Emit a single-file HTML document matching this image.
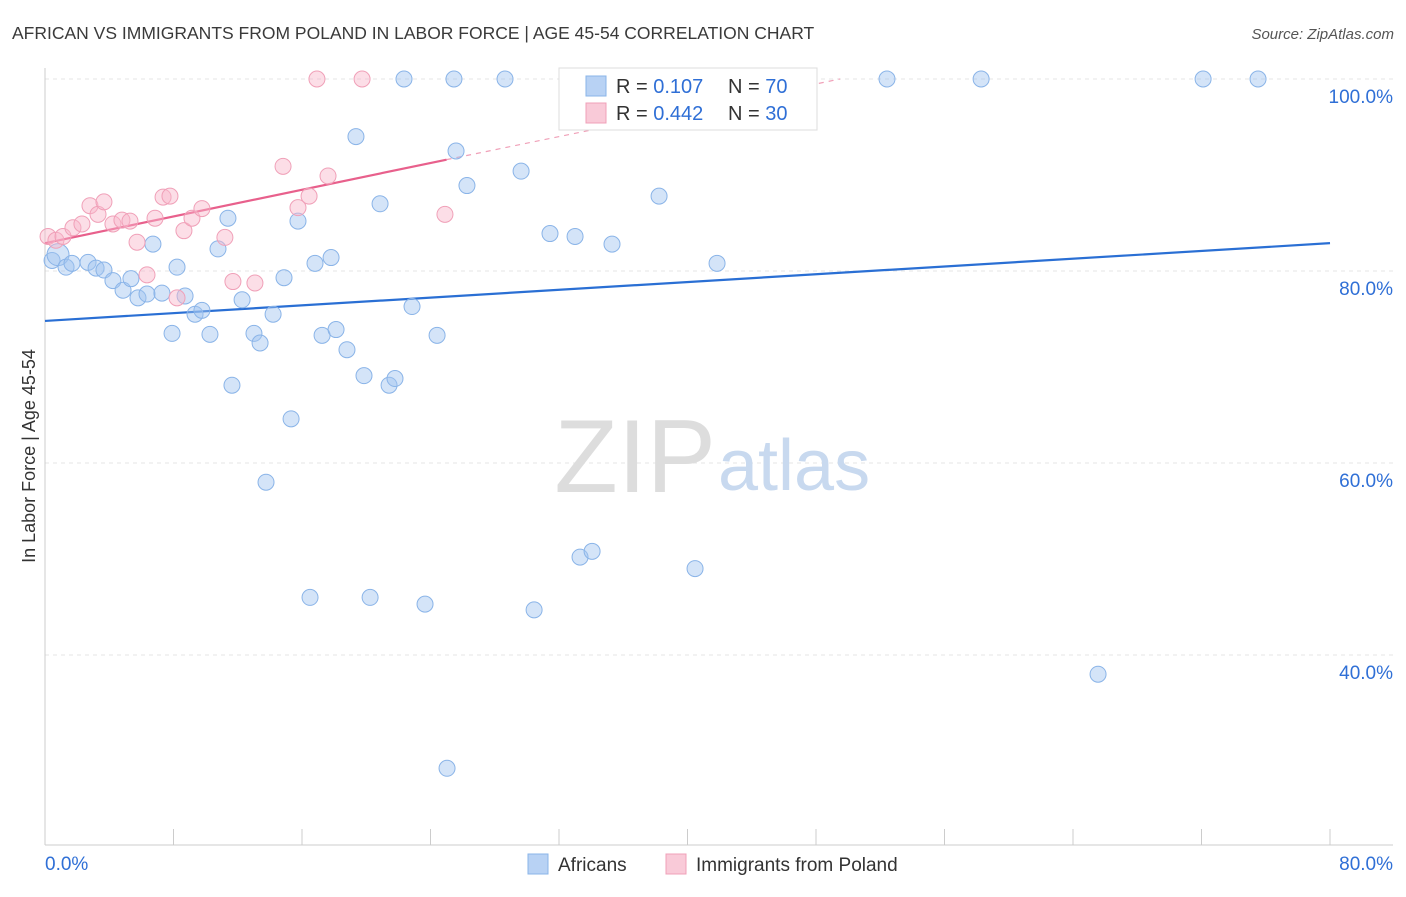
<!DOCTYPE html>
<html><head><meta charset="utf-8"><style>
body{margin:0;background:#fff;font-family:"Liberation Sans",sans-serif;}
svg text{font-family:"Liberation Sans",sans-serif;}
</style></head><body>
<svg id="chart" width="1406" height="892" viewBox="0 0 1406 892">
<text x="12" y="39" font-size="17.5" fill="#3a3a3a">AFRICAN VS IMMIGRANTS FROM POLAND IN LABOR FORCE | AGE 45-54 CORRELATION CHART</text>
<text x="1394" y="39" font-size="15" fill="#555" font-style="italic" text-anchor="end">Source: ZipAtlas.com</text>
<text x="35" y="456" font-size="18" fill="#333" text-anchor="middle" transform="rotate(-90 35 456)">In Labor Force | Age 45-54</text>
<g id="grid"></g>
<g id="axes"></g>
<text x="716" y="492" font-size="104" fill="#ddd" text-anchor="end" font-family="Liberation Serif">ZIP</text>
<text x="718" y="490" font-size="72" fill="#c8d9ef">atlas</text>
<g id="trends"></g>
<g id="points"></g>
<g>
<rect x="559" y="68" width="258" height="62" fill="#fff" stroke="#ddd"/>
<rect x="586" y="76" width="20" height="20" fill="#b8d2f4" stroke="#8ab4e8"/>
<text x="616" y="93" font-size="20" fill="#333">R = <tspan fill="#2f6fd6"> 0.107</tspan><tspan x="728">N = </tspan><tspan fill="#2f6fd6">70</tspan></text>
<rect x="586" y="103" width="20" height="20" fill="#f9cad8" stroke="#f0a0b8"/>
<text x="616" y="120" font-size="20" fill="#333">R = <tspan fill="#2f6fd6">0.442</tspan><tspan x="728">N = </tspan><tspan fill="#2f6fd6">30</tspan></text>
</g>
<g>
<rect x="528" y="854" width="20" height="20" fill="#b8d2f4" stroke="#8ab4e8"/>
<text x="558" y="871" font-size="19" fill="#333">Africans</text>
<rect x="666" y="854" width="20" height="20" fill="#f9cad8" stroke="#f0a0b8"/>
<text x="696" y="871" font-size="19" fill="#333">Immigrants from Poland</text>
</g>
</svg>
<script>
const yTicks=[40,60,80,100];
const xTickLabels=["0.0%","80.0%"];
const africansX=[0.44,0.81,1.31,1.68,2.68,3.18,3.67,4.23,4.86,5.35,5.79,6.35,6.72,7.28,7.91,8.22,8.72,9.34,9.77,10.27,10.77,11.39,11.64,12.27,13.01,13.39,13.76,14.2,14.88,15.32,15.75,16.5,16.81,17.25,17.81,18.12,18.8,19.36,19.86,20.24,20.86,21.42,21.79,22.35,22.85,23.66,24.41,25.03,25.46,25.59,26.27,28.64,29.64,30.45,31.44,33.0,33.31,34.06,34.8,35.3,38.23,40.47,41.84,43.33,52.42,58.28,65.56,72.1,75.52];
const africansY=[81.1,81.7,80.4,80.8,80.9,80.3,80.1,79.0,78.0,79.2,77.2,77.6,82.8,77.7,73.5,80.4,77.4,75.5,75.9,73.4,82.3,85.5,68.1,77.0,73.5,72.5,58.0,75.5,79.3,64.6,85.2,46.0,80.8,73.3,81.4,73.9,71.8,94.0,69.1,46.0,87.0,68.1,68.8,100,76.3,45.3,73.3,28.2,100,92.5,88.9,100,90.4,44.7,83.9,83.6,50.2,50.8,100,82.8,87.8,49.0,80.8,100,100,100,38.0,100,100];
const polandX=[0.19,0.68,1.12,1.74,2.3,2.8,3.3,3.67,4.23,4.79,5.29,5.73,6.35,6.85,7.35,7.78,8.22,8.65,9.15,9.77,11.2,11.7,13.07,14.82,15.75,16.44,17.62,16.93,19.74,24.9];
const polandY=[83.6,83.2,83.6,84.5,84.9,86.8,85.9,87.2,84.9,85.3,85.2,83.0,79.6,85.5,87.7,87.8,77.2,84.2,85.5,86.5,83.5,78.9,78.75,90.9,86.6,87.8,89.9,100,100,85.9];
const africansTrend=[0,74.8,80,82.9];
const polandTrend=[0,82.9,25,91.6,49.5,100];
const NS="http://www.w3.org/2000/svg";
const X=v=>45+v*1285/80, Y=v=>79+(100-v)*9.6;
function mk(tag,attrs,parent){const e=document.createElementNS(NS,tag);for(const k in attrs)e.setAttribute(k,attrs[k]);parent.appendChild(e);return e;}
const grid=document.getElementById('grid'),axes=document.getElementById('axes');
yTicks.forEach(t=>{
 const l=mk('line',{x1:45,x2:1393,y1:Y(t),y2:Y(t),stroke:'#e4e4e4','stroke-dasharray':'4 4'},grid);
 
 
 const tx=mk('text',{x:1393,y:Y(t)+24,'font-size':19,fill:'#2f6fd6','text-anchor':'end'},axes);
 tx.textContent=t.toFixed(1)+'%';
 
 
});
mk('line',{x1:45,x2:45,y1:68,y2:845,stroke:'#ccc'},axes);
mk('line',{x1:45,x2:1393,y1:845,y2:845,stroke:'#ccc'},axes);
for(let i=0;i<=10;i++){mk('line',{x1:X(i*8),x2:X(i*8),y1:829,y2:845,stroke:'#ccc'},axes);}
const xl0=mk('text',{x:45,y:870,'font-size':19,fill:'#2f6fd6'},axes);xl0.textContent=xTickLabels[0];


const xl1=mk('text',{x:1393,y:870,'font-size':19,fill:'#2f6fd6','text-anchor':'end'},axes);xl1.textContent=xTickLabels[1];


const tr=document.getElementById('trends');
const bt=mk('line',{x1:X(africansTrend[0]),y1:Y(africansTrend[1]),x2:X(africansTrend[2]),y2:Y(africansTrend[3]),stroke:'#2a6fd4','stroke-width':2.2},tr);


const pt=mk('line',{x1:X(polandTrend[0]),y1:Y(polandTrend[1]),x2:X(polandTrend[2]),y2:Y(polandTrend[3]),stroke:'#e8608c','stroke-width':2.2},tr);


const pd=mk('line',{x1:X(polandTrend[2]),y1:Y(polandTrend[3]),x2:X(polandTrend[4]),y2:Y(polandTrend[5]),stroke:'#f0a0b8','stroke-width':1.2,'stroke-dasharray':'5 5'},tr);


const pts=document.getElementById('points');
africansX.forEach((v,i)=>{
 const c=mk('circle',{cx:X(v),cy:Y(africansY[i]),r:i===1?11:8,fill:'rgba(160,196,240,0.45)',stroke:'#8ab4e8','stroke-width':1},pts);
 
 
});
polandX.forEach((v,i)=>{
 const c=mk('circle',{cx:X(v),cy:Y(polandY[i]),r:8,fill:'rgba(248,182,202,0.45)',stroke:'#f0a0b8','stroke-width':1},pts);
 
 
});
</script>
</body></html>
